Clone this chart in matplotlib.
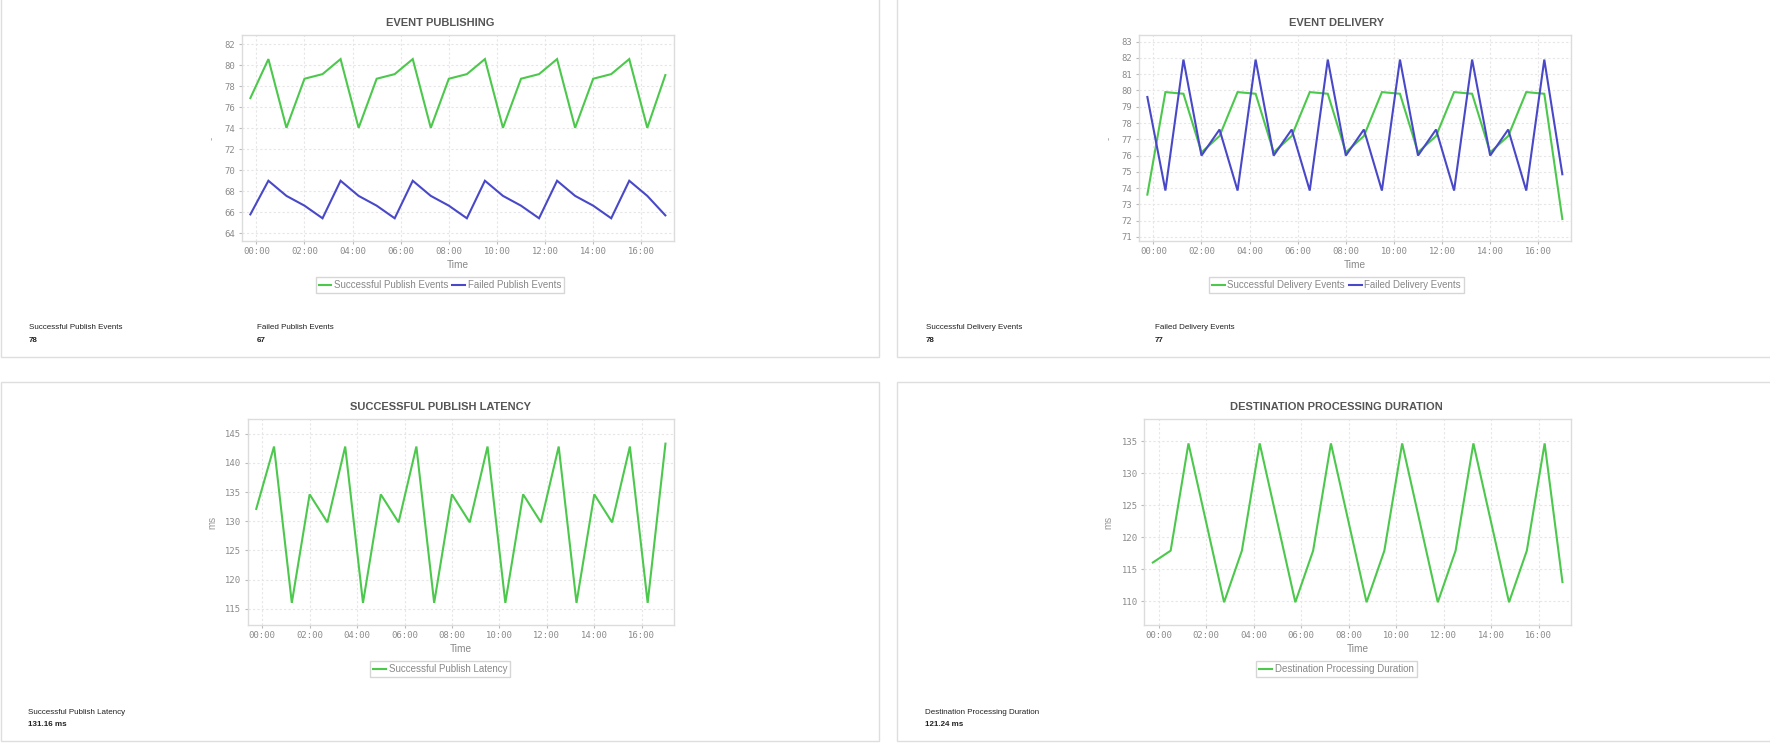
import matplotlib
matplotlib.use("Agg")
import matplotlib.pyplot as plt
import matplotlib.dates as mdates
from matplotlib.patches import Rectangle
from matplotlib import font_manager
import pandas as pd

# ---------------- data ----------------
times = ["2024-01-01 23:45", "2024-01-02 00:30", "2024-01-02 01:15", "2024-01-02 02:00",
         "2024-01-02 02:45", "2024-01-02 03:30", "2024-01-02 04:15", "2024-01-02 05:00",
         "2024-01-02 05:45", "2024-01-02 06:30", "2024-01-02 07:15", "2024-01-02 08:00",
         "2024-01-02 08:45", "2024-01-02 09:30", "2024-01-02 10:15", "2024-01-02 11:00",
         "2024-01-02 11:45", "2024-01-02 12:30", "2024-01-02 13:15", "2024-01-02 14:00",
         "2024-01-02 14:45", "2024-01-02 15:30", "2024-01-02 16:15", "2024-01-02 17:00"]

publish_success = [76.86, 80.57, 74.03, 78.7, 79.14, 80.57, 74.03, 78.7, 79.14, 80.57, 74.03, 78.7,
                   79.14, 80.57, 74.03, 78.7, 79.14, 80.57, 74.03, 78.7, 79.14, 80.57, 74.03, 79.05]
publish_failed = [65.8, 69.0, 67.56, 66.63, 65.43, 69.0, 67.56, 66.63, 65.43, 69.0, 67.56, 66.63,
                  65.43, 69.0, 67.56, 66.63, 65.43, 69.0, 67.56, 66.63, 65.43, 69.0, 67.56, 65.71]
delivery_success = [73.6, 79.9, 79.8, 76.2, 77.2, 79.9, 79.8, 76.2, 77.2, 79.9, 79.8, 76.2,
                    77.2, 79.9, 79.8, 76.2, 77.2, 79.9, 79.8, 76.2, 77.2, 79.9, 79.8, 72.1]
delivery_failed = [79.6, 73.85, 81.9, 76.0, 77.6, 73.85, 81.9, 76.0, 77.6, 73.85, 81.9, 76.0,
                   77.6, 73.85, 81.9, 76.0, 77.6, 73.85, 81.9, 76.0, 77.6, 73.85, 81.9, 74.85]
publish_latency = [132.1, 142.8, 116.0, 134.6, 129.8, 142.8, 116.0, 134.6, 129.8, 142.8, 116.0, 134.6,
                   129.8, 142.8, 116.0, 134.6, 129.8, 142.8, 116.0, 134.6, 129.8, 142.8, 116.0, 143.3]
dest_duration = [116.05, 117.9, 134.64, 122.25, 109.85, 117.9, 134.64, 122.25, 109.85, 117.9, 134.64, 122.25,
                 109.85, 117.9, 134.64, 122.25, 109.85, 117.9, 134.64, 122.25, 109.85, 117.9, 134.64, 113.0]

titles = ["EVENT PUBLISHING", "EVENT DELIVERY", "SUCCESSFUL PUBLISH LATENCY", "DESTINATION PROCESSING DURATION"]
footer_labels = [["Successful Publish Events", "Failed Publish Events"],
                 ["Successful Delivery Events", "Failed Delivery Events"],
                 ["Successful Publish Latency"],
                 ["Destination Processing Duration"]]
footer_values = [["78", "67"], ["78", "77"], ["131.16 ms"], ["121.24 ms"]]
y_labels = ["-", "-", "ms", "ms"]

t = pd.to_datetime(times)

GREEN = "#4cc84c"
BLUE = "#4848c8"

# condensed footer font if available
footer_family = "Liberation Sans"
footer_size = 5.8
try:
    font_manager.findfont(font_manager.FontProperties(family="Liberation Sans Narrow"),
                          fallback_to_default=False)
    footer_family = "Liberation Sans Narrow"
    footer_size = 6.8
except Exception:
    pass

W, H = 1770, 743
fig = plt.figure(figsize=(W / 100, H / 100), dpi=100)
fig.patch.set_facecolor("white")


def fx(px):
    return px / W


def fy(py):
    return 1 - py / H


# panel boxes
for (x0, y0, x1, y1) in [(0.5, -2, 879, 357), (897, -2, 1780, 357),
                         (0.5, 382, 879, 741), (897, 382, 1780, 741)]:
    fig.patches.append(Rectangle((fx(x0), fy(y1)), fx(x1 - x0), (y1 - y0) / H,
                                 transform=fig.transFigure, facecolor="white",
                                 edgecolor="#dedede", lw=1.0, zorder=-10))

axes_px = [(241.7, 35, 674, 241), (1138.7, 35, 1571, 241),
           (247.7, 419.3, 674, 625), (1144.3, 419.3, 1571, 625)]
ylims = [(63.27, 82.86), (70.75, 83.41), (112.2, 147.47), (106.3, 138.4)]
yticks = [list(range(64, 83, 2)), list(range(71, 84, 1)), list(range(115, 146, 5)), list(range(110, 136, 5))]
series = [[(publish_success, GREEN, "Successful Publish Events"), (publish_failed, BLUE, "Failed Publish Events")],
          [(delivery_success, GREEN, "Successful Delivery Events"), (delivery_failed, BLUE, "Failed Delivery Events")],
          [(publish_latency, GREEN, "Successful Publish Latency")],
          [(dest_duration, GREEN, "Destination Processing Duration")]]
panel_cx = [440, 1336.5, 440, 1336.5]
title_y = [23, 23, 406.7, 406.7]
legend_y = [285, 285, 669, 669]
footer_x = [[29, 257], [926, 1155], [28], [925]]
footer_y = [327.7, 327.7, 712, 712]

x0 = pd.Timestamp("2024-01-02 00:00")
xlim = (x0 - pd.Timedelta(hours=0.61), x0 + pd.Timedelta(hours=17.36))
xticks = [x0 + pd.Timedelta(hours=h) for h in range(0, 17, 2)]

for i in range(4):
    l, tp, r, b = axes_px[i]
    ax = fig.add_axes([fx(l), fy(b), fx(r - l), (b - tp) / H])
    ax.set_facecolor("white")
    for s in series[i]:
        ax.plot(t, s[0], color=s[1], lw=1.5, label=s[2], solid_joinstyle="miter")
    ax.set_xlim(xlim)
    ax.set_ylim(ylims[i])
    ax.set_yticks(yticks[i])
    ax.set_xticks(xticks)
    ax.xaxis.set_major_formatter(mdates.DateFormatter("%H:%M"))
    ax.grid(True, color="#e6e6e6", lw=0.8, linestyle=(0, (2, 2)))
    ax.set_axisbelow(True)
    for sp in ax.spines.values():
        sp.set_color("#dcdcdc")
        sp.set_linewidth(1.0)
    ax.tick_params(axis="both", colors="#bbbbbb", length=2.5, width=0.8,
                   labelcolor="#8a8a8a", labelsize=6.4, pad=2)
    for lab in ax.get_xticklabels() + ax.get_yticklabels():
        lab.set_family("DejaVu Sans Mono")
    ax.set_xlabel("Time", fontsize=7.3, color="#888888", family="Liberation Sans", labelpad=3)
    ax.set_ylabel(y_labels[i], fontsize=7, color="#999999", family="Liberation Sans", labelpad=6)
    fig.text(fx(panel_cx[i]), fy(title_y[i]), titles[i], ha="center", va="center",
             fontsize=8, fontweight="bold", color="#555555", family="Liberation Sans")
    leg = ax.legend(loc="center", bbox_to_anchor=(fx(panel_cx[i]), fy(legend_y[i])),
                    bbox_transform=fig.transFigure, ncol=len(series[i]), frameon=True,
                    fancybox=False, fontsize=7, handlelength=1.3, handletextpad=0.3,
                    columnspacing=0.4, borderpad=0.3, borderaxespad=0)
    leg.get_frame().set_edgecolor("#cccccc")
    leg.get_frame().set_linewidth(1.0)
    for txt in leg.get_texts():
        txt.set_color("#888888")
        txt.set_family("Liberation Sans")
    for j, lbl in enumerate(footer_labels[i]):
        fig.text(fx(footer_x[i][j]), fy(footer_y[i]), lbl, ha="left", va="center",
                 fontsize=footer_size, color="#222222", family=footer_family)
        fig.text(fx(footer_x[i][j]), fy(footer_y[i] + 13), footer_values[i][j], ha="left", va="center",
                 fontsize=footer_size, fontweight="bold", color="#222222", family=footer_family)

fig.savefig("out.png", dpi=100, facecolor="white")
